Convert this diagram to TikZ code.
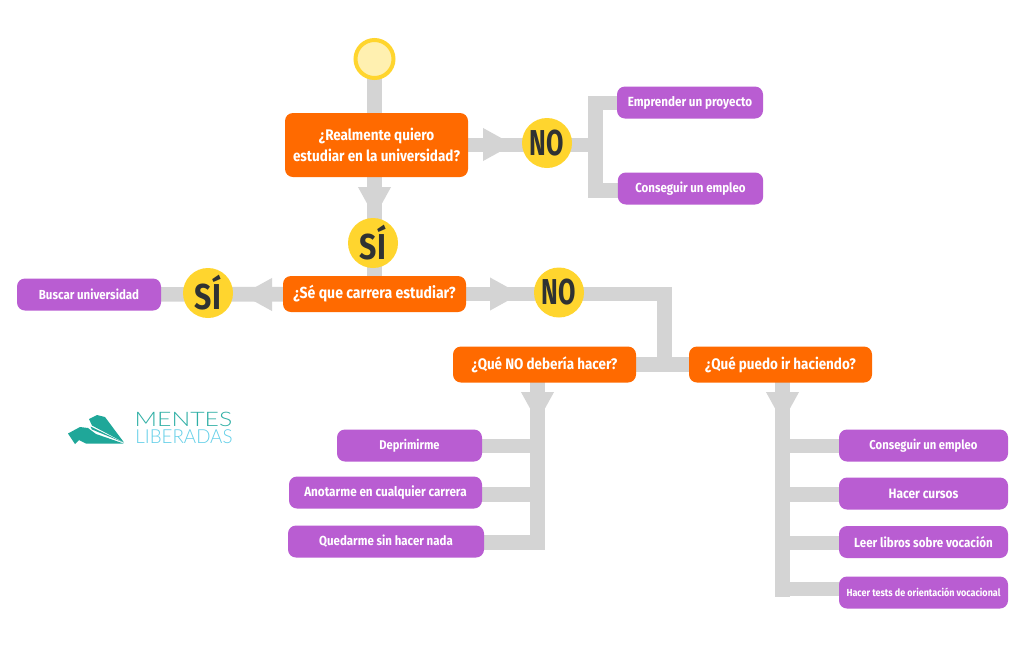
\documentclass[tikz,border=0pt]{standalone}
\usepackage{fontspec}
\setmainfont{Fira Sans}[FakeStretch=0.88,UprightFont=* Medium,BoldFont=* Bold]
\newfontfamily\signfont{Fira Sans Bold}[FakeStretch=0.70]
\newfontfamily\signfontwide{Fira Sans Bold}[FakeStretch=0.84]
\newfontfamily\logofontA{Lato Light}[FakeStretch=1.24]
\newfontfamily\logofontB{Lato Light}[FakeStretch=0.97]
\definecolor{linegray}{HTML}{D4D4D4}
\definecolor{qorange}{HTML}{FF6A00}
\definecolor{leafpurple}{HTML}{B95DD2}
\definecolor{signyellow}{HTML}{FFD52E}
\definecolor{startfill}{HTML}{FFF0B0}
\definecolor{signink}{HTML}{2F3233}
\definecolor{planeteal}{HTML}{1FA799}
\definecolor{logoteal}{HTML}{2FAFA5}
\definecolor{logoblue}{HTML}{62CFE8}
\tikzset{
  x=0.75pt,y=-0.75pt,
  conn/.style={draw=linegray,line width=11pt,line join=miter},
  question/.style={fill=qorange,rounded corners=6pt,text=white,align=center,inner sep=0pt,font=\fontsize{#1pt}{16pt}\selectfont\bfseries},
  question/.default=11.9,
  leaf/.style={fill=leafpurple,rounded corners=6pt,text=white,align=center,inner sep=0pt,font=\fontsize{#1pt}{11pt}\selectfont\bfseries},
  leaf/.default=9.8,
  sign/.style={circle,fill=signyellow,text=signink,minimum size=37.5pt,inner sep=0pt,font=\signfont\fontsize{27pt}{27pt}\selectfont},
  signwide/.style={sign,font=\signfontwide\fontsize{27pt}{27pt}\selectfont},
  startdot/.style={circle,fill=startfill,draw=signyellow,line width=3pt,minimum size=28.5pt,inner sep=0pt},
  headshape/.style={fill=linegray},
}
\newcommand{\headmark}[2]{\fill[headshape,shift={(#1)},rotate=#2] (0pt,-12.4pt) -- (22.5pt,0pt) -- (0pt,12.4pt) -- cycle;}
\begin{document}
\begin{tikzpicture}
\useasboundingbox (0,0) rectangle (1024,647);
\fill[white] (0,0) rectangle (1024,647);
\path
  coordinate (start) at (374.5,59)
  coordinate (q1) at (376.5,145)
  coordinate (q2) at (374.5,294)
  coordinate (q3) at (544.5,364.5)
  coordinate (q4) at (780.5,364.5)
  coordinate (no1) at (547,143)
  coordinate (si1) at (373,243)
  coordinate (no2) at (559,292.5)
  coordinate (si2) at (208,293)
  coordinate (l1) at (690,102.5)
  coordinate (l2) at (690.5,188.5)
  coordinate (l3) at (89,294.5)
  coordinate (l4) at (409.5,445.5)
  coordinate (l5) at (385.5,492.5)
  coordinate (l6) at (386,541.5)
  coordinate (l7) at (923.5,445.5)
  coordinate (l8) at (923.5,493.5)
  coordinate (l9) at (923.5,542)
  coordinate (l10) at (923.5,592.5)
  coordinate (jA) at (595.5,103)
  coordinate (jB) at (595.5,190.5)
  coordinate (jC) at (664.5,294)
  coordinate (jD) at (664.5,365)
  coordinate (dl) at (537.5,364.5)
  coordinate (dl1) at (537.5,446)
  coordinate (dl2) at (537.5,494.5)
  coordinate (dl3) at (537.5,542.5)
  coordinate (dr) at (782.5,364.5)
  coordinate (dr1) at (782.5,446)
  coordinate (dr2) at (782.5,494.5)
  coordinate (dr3) at (782.5,543)
  coordinate (dr4) at (782.5,589);
% connectors
\draw[conn] (start) -- (start |- q2);
\headmark{374.5,187}{-90}
\draw[conn] (q1) -- (q1 -| jA);
\headmark{483,144.5}{0}
\draw[conn] (jA -| l1) -- (jA) -- (jB) -- (jB -| l2);
\draw[conn] (l3) -- (q2);
\headmark{272,294.5}{180}
\draw[conn] (q2) -- (jC) -- (jD);
\headmark{490,294}{0}
\draw[conn] (q3) -- (q4);
\draw[conn] (dl) -- (dl3) -- (dl3 -| l6);
\draw[conn] (dl1) -- (dl1 -| l4);
\draw[conn] (dl2) -- (dl2 -| l5);
\headmark{537.5,392}{-90}
\draw[conn] (dr) -- (782.5,596.5);
\draw[conn] (dr1) -- (dr1 -| l7);
\draw[conn] (dr2) -- (dr2 -| l8);
\draw[conn] (dr3) -- (dr3 -| l9);
\draw[conn] (dr4) -- (dr4 -| l10);
\headmark{782.5,392}{-90}
% boxes
\node[startdot] (nstart) at (start) {};
\node[question=11.5,minimum width=137.25pt,minimum height=48pt] (nq1) at (q1) {¿Realmente quiero\\estudiar en la universidad?};
\node[question=12,minimum width=137.25pt,minimum height=27pt] (nq2) at (q2) {¿Sé que carrera estudiar?};
\node[question=11.45,minimum width=137.25pt,minimum height=27pt] (nq3) at (q3) {¿Qué NO debería hacer?};
\node[question=11.45,minimum width=137.25pt,minimum height=27pt] (nq4) at (q4) {¿Qué puedo ir haciendo?};
\node[sign] (nno1) at (no1) {NO};
\node[signwide] (nsi1) at (si1) {SÍ};
\node[sign] (nno2) at (no2) {NO};
\node[signwide] (nsi2) at (si2) {SÍ};
\node[leaf=9.93,minimum width=109.5pt,minimum height=24pt] (nl1) at (l1) {Emprender un proyecto};
\node[leaf,minimum width=109pt,minimum height=24pt] (nl2) at (l2) {Conseguir un empleo};
\node[leaf,minimum width=108pt,minimum height=24pt] (nl3) at (l3) {Buscar universidad};
\node[leaf=9.5,minimum width=108.75pt,minimum height=24pt] (nl4) at (l4) {Deprimirme};
\node[leaf=10,minimum width=144.75pt,minimum height=24pt] (nl5) at (l5) {Anotarme en cualquier carrera};
\node[leaf,minimum width=147pt,minimum height=24pt] (nl6) at (l6) {Quedarme sin hacer nada};
\node[leaf=9.6,minimum width=126.75pt,minimum height=24pt] (nl7) at (l7) {Conseguir un empleo};
\node[leaf=10.2,minimum width=126.75pt,minimum height=24pt] (nl8) at (l8) {Hacer cursos};
\node[leaf=9.9,minimum width=126.75pt,minimum height=24pt] (nl9) at (l9) {Leer libros sobre vocación};
\node[leaf=7.67,minimum width=126.75pt,minimum height=24pt] (nl10) at (l10) {Hacer tests de orientación vocacional};
% logo
\fill[planeteal] (68,433.5) -- (80,427) -- (88,428) -- (96,434) -- (123.5,443.5) -- (86,443.5) -- (79,440) -- (75,444) -- cycle;
\fill[planeteal] (90.5,426.5) -- (123.5,442.5) -- (92,429.5) -- cycle;
\fill[planeteal] (89,419) -- (97,415) -- (105,417) -- (124,442.5) -- (92,425.5) -- cycle;
\node[anchor=base,text=logoteal,font=\logofontA\fontsize{15pt}{16pt}\selectfont,inner sep=0pt] (m) at (183.5,426) {MENTES};
\node[anchor=base,text=logoblue,font=\logofontB\fontsize{14.5pt}{16pt}\selectfont,inner sep=0pt] (lb) at (184,443) {LIBERADAS};
\end{tikzpicture}
\end{document}
